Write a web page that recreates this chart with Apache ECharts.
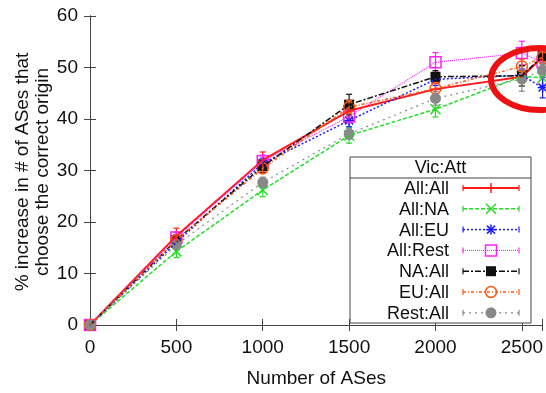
<!DOCTYPE html>
<html>
<head>
<meta charset="utf-8">
<script src="https://cdn.jsdelivr.net/npm/echarts@6/dist/echarts.min.js"></script>
<style>
html,body{margin:0;padding:0;background:#fff;}
#chart{width:546px;height:393px;}
</style>
</head>
<body>
<div id="chart"></div>
<script>
// Number of ASes on the x axis
const xValues = [0, 500, 1000, 1500, 2000, 2500, 2620];

// % increase per victim:attacker setting
const allAll   = [0, 17.3, 32.0, 41.6, 45.8, 48.2, 52.0];
const allNA    = [0, 14.3, 26.2, 36.8, 41.9, 48.3, 48.0];
const allEU    = [0, 16.0, 31.4, 39.7, 47.7, 48.5, 46.1];
const allRest  = [0, 17.0, 31.8, 40.5, 51.0, 52.8, 51.0];
const naAll    = [0, 16.5, 30.8, 42.8, 48.2, 48.4, 52.2];
const euAll    = [0, 16.5, 30.4, 42.3, 45.9, 50.2, 52.0];
const restAll  = [0, 15.6, 27.7, 37.1, 44.0, 47.8, 49.5];

// error bar half widths
const errAllAll  = [0, 1.5, 1.6, 1.2, 1.2, 1.2, 1.2];
const errAllNA   = [0, 1.2, 1.3, 1.5, 1.5, 1.0, 1.5];
const errAllEU   = [0, 1.0, 1.0, 1.2, 1.2, 1.2, 2.0];
const errAllRest = [0, 1.0, 1.2, 1.2, 1.9, 2.3, 1.5];
const errNAAll   = [0, 1.0, 1.2, 2.0, 1.2, 2.0, 1.5];
const errEUAll   = [0, 1.0, 1.0, 1.3, 1.2, 1.4, 1.2];
const errRestAll = [0, 1.0, 1.0, 1.0, 1.3, 2.4, 1.5];

const seriesNames = ['All:All', 'All:NA', 'All:EU', 'All:Rest', 'NA:All', 'EU:All', 'Rest:All'];
const seriesValues = [allAll, allNA, allEU, allRest, naAll, euAll, restAll];
const seriesErrors = [errAllAll, errAllNA, errAllEU, errAllRest, errNAAll, errEUAll, errRestAll];

const xTicks = [0, 500, 1000, 1500, 2000, 2500];
const legendTitle = 'Vic:Att';
const yTitle = '% increase in # of ASes that\nchoose the correct origin';

const styles = [
  { color: '#ff1a1a', width: 2,   dash: 'solid',        marker: 'plus' },
  { color: '#22dd22', width: 1.5, dash: [4, 2],         marker: 'cross' },
  { color: '#1a1aff', width: 1.5, dash: [2, 2],         marker: 'star' },
  { color: '#ff22ff', width: 1.2, dash: [1, 1],         marker: 'square' },
  { color: '#111111', width: 1.5, dash: [6, 2, 2, 2],   marker: 'fsquare' },
  { color: '#ff5a14', width: 1.5, dash: [3, 2, 1, 2],   marker: 'circle' },
  { color: '#888888', width: 1.2, dash: [2, 4],         marker: 'fcircle' }
];

const FONT = '"Liberation Sans", Arial, sans-serif';

function markerShape(type, cx, cy, color) {
  const lw = 1.5;
  const line = (x1, y1, x2, y2) => ({
    type: 'line', shape: { x1, y1, x2, y2 }, style: { stroke: color, lineWidth: lw }
  });
  const s = 5;
  switch (type) {
    case 'plus':
      return [line(cx - s, cy, cx + s, cy), line(cx, cy - s, cx, cy + s)];
    case 'cross':
      return [line(cx - s, cy - s, cx + s, cy + s), line(cx - s, cy + s, cx + s, cy - s)];
    case 'star':
      return [line(cx - s, cy, cx + s, cy), line(cx, cy - s, cx, cy + s),
              line(cx - 4, cy - 4, cx + 4, cy + 4), line(cx - 4, cy + 4, cx + 4, cy - 4)];
    case 'square':
      return [{ type: 'rect', shape: { x: cx - 5.5, y: cy - 5.5, width: 11, height: 11 },
                style: { fill: 'none', stroke: color, lineWidth: 1.5 } }];
    case 'fsquare':
      return [{ type: 'rect', shape: { x: cx - 5, y: cy - 5, width: 10, height: 10 },
                style: { fill: color } }];
    case 'circle':
      return [{ type: 'circle', shape: { cx, cy, r: 5.5 },
                style: { fill: 'none', stroke: color, lineWidth: 1.5 } }];
    case 'fcircle':
      return [{ type: 'circle', shape: { cx, cy, r: 5.5 }, style: { fill: color } }];
  }
  return [];
}

const series = [];
seriesNames.forEach((name, i) => {
  const st = styles[i];
  const vals = seriesValues[i];
  const errs = seriesErrors[i];
  series.push({
    type: 'line',
    name,
    data: xValues.map((x, k) => [x, vals[k]]),
    symbol: 'none',
    clip: true,
    lineStyle: { color: st.color, width: st.width, type: st.dash },
    itemStyle: { color: st.color },
    animation: false,
    z: 2
  });
  series.push({
    type: 'custom',
    name: name + ' points',
    data: xValues.map((x, k) => [x, vals[k], errs[k]]),
    clip: false,
    animation: false,
    z: 2,
    renderItem: function (params, api) {
      const x = api.value(0), y = api.value(1), e = api.value(2);
      const p = api.coord([x, y]);
      const children = [];
      if (e > 0) {
        const top = api.coord([x, y + e])[1];
        const bot = api.coord([x, y - e])[1];
        const c = 3;
        const ls = { stroke: st.color, lineWidth: 1.2 };
        children.push({ type: 'line', shape: { x1: p[0], y1: top, x2: p[0], y2: bot }, style: ls });
        children.push({ type: 'line', shape: { x1: p[0] - c, y1: top, x2: p[0] + c, y2: top }, style: ls });
        children.push({ type: 'line', shape: { x1: p[0] - c, y1: bot, x2: p[0] + c, y2: bot }, style: ls });
      }
      markerShape(st.marker, p[0], p[1], st.color).forEach(m => children.push(m));
      return { type: 'group', children };
    }
  });
});

// key box with its title row
const key = { left: 350, top: 157, width: 181, height: 166, headerH: 21, firstY: 188, gap: 20.8,
              textRight: 449, lineX1: 463, lineX2: 519 };
const graphics = [
  { type: 'rect', shape: { x: key.left, y: key.top, width: key.width, height: key.height },
    style: { fill: '#fff', stroke: '#444', lineWidth: 1 }, z: 50 },
  { type: 'line', shape: { x1: key.left, y1: key.top + key.headerH, x2: key.left + key.width, y2: key.top + key.headerH },
    style: { stroke: '#444', lineWidth: 1 }, z: 51 },
  { type: 'text', style: { text: legendTitle, x: key.left + key.width / 2, y: key.top + key.headerH / 2 + 1,
    align: 'center', verticalAlign: 'middle', font: '18px ' + FONT, fill: '#111' }, z: 51 }
];
seriesNames.forEach((name, i) => {
  const st = styles[i];
  const y = key.firstY + i * key.gap;
  graphics.push({ type: 'text', style: { text: name, x: key.textRight, y: y + 1, align: 'right',
    verticalAlign: 'middle', font: '18px ' + FONT, fill: '#111' }, z: 51 });
  graphics.push({ type: 'line', shape: { x1: key.lineX1, y1: y, x2: key.lineX2, y2: y },
    style: { stroke: st.color, lineWidth: st.width, lineDash: st.dash === 'solid' ? null : st.dash }, z: 51 });
  [key.lineX1, key.lineX2].forEach(xx => graphics.push({ type: 'line',
    shape: { x1: xx, y1: y - 3, x2: xx, y2: y + 3 }, style: { stroke: st.color, lineWidth: 1.2 }, z: 51 }));
  const mx = (key.lineX1 + key.lineX2) / 2;
  markerShape(st.marker, mx, y, st.color).forEach(m => { m.z = 52; graphics.push(m); });
});

// y axis title, two rotated lines
graphics.push({ type: 'text', x: 33, y: 172, rotation: Math.PI / 2,
  style: { text: yTitle, x: 0, y: 0, align: 'center', verticalAlign: 'middle',
    font: '19px ' + FONT, lineHeight: 20, fill: '#111' }, z: 40 });

// highlight ring around the large-topology end
graphics.push({ type: 'ellipse', shape: { cx: 540, cy: 79, rx: 49, ry: 31 },
  style: { fill: 'none', stroke: '#ee1111', lineWidth: 6 }, z: 60 });

const axisLineStyle = { color: '#444', width: 1 };
const chart = echarts.init(document.getElementById('chart'), null, { renderer: 'canvas' });
chart.setOption({
  animation: false,
  backgroundColor: '#fff',
  grid: { left: 90, right: 3, top: 16, bottom: 65 },
  xAxis: [
    { type: 'value', min: 0, max: 2620, interval: 500, position: 'bottom',
      name: 'Number of ASes', nameLocation: 'middle', nameGap: 44,
      nameTextStyle: { fontFamily: FONT, fontSize: 19, color: '#111' },
      axisLine: { show: true, lineStyle: axisLineStyle },
      axisTick: { inside: true, length: 6, lineStyle: axisLineStyle },
      axisLabel: { margin: 13, fontFamily: FONT, fontSize: 19, color: '#111',
        formatter: v => (xTicks.indexOf(v) >= 0 ? String(v) : '') },
      splitLine: { show: false } },
    { type: 'value', min: 0, max: 2620, interval: 500, position: 'top',
      axisLine: { show: true, lineStyle: axisLineStyle },
      axisTick: { inside: true, length: 6, lineStyle: axisLineStyle },
      axisLabel: { show: false }, splitLine: { show: false } }
  ],
  yAxis: [
    { type: 'value', min: 0, max: 60, interval: 10, position: 'left',
      axisLine: { show: true, lineStyle: axisLineStyle },
      axisTick: { inside: true, length: 6, lineStyle: axisLineStyle },
      axisLabel: { margin: 12, fontFamily: FONT, fontSize: 19, color: '#111' },
      splitLine: { show: false } },
    { type: 'value', min: 0, max: 60, interval: 10, position: 'right',
      axisLine: { show: true, lineStyle: axisLineStyle },
      axisTick: { inside: true, length: 6, lineStyle: axisLineStyle },
      axisLabel: { show: false }, splitLine: { show: false } }
  ],
  series,
  graphic: graphics
});
</script>
</body>
</html>
